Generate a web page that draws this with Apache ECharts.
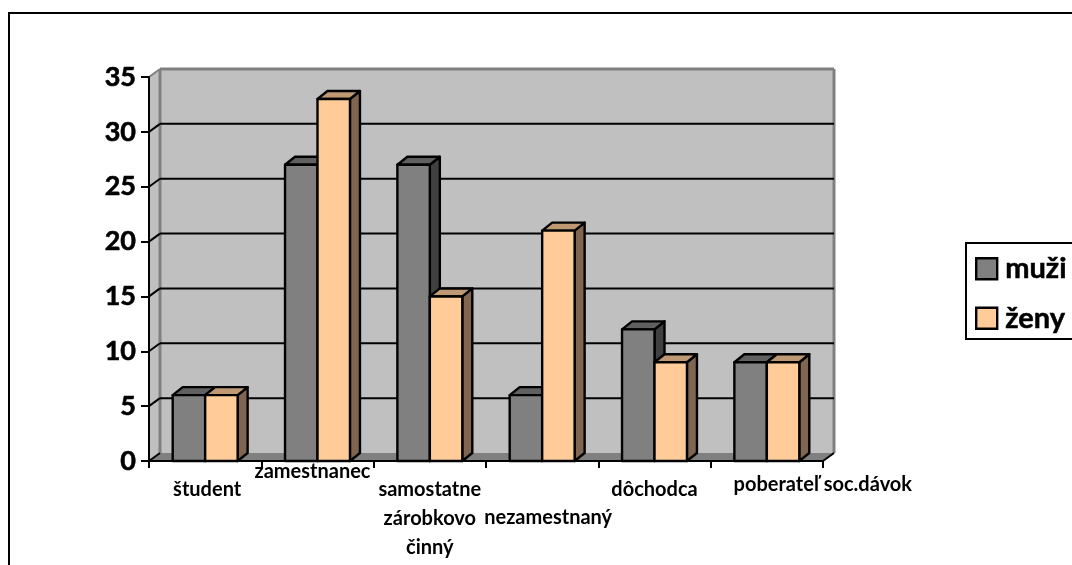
<!DOCTYPE html>
<html><head><meta charset="utf-8">
<script src="https://cdn.jsdelivr.net/npm/echarts@6/dist/echarts.min.js"></script>
<style>html,body{margin:0;padding:0;background:#fff;overflow:hidden}#c{width:1072px;height:565px}</style>
</head><body><div id="c"></div>
<script>
const categories = ['študent','zamestnanec','samostatne\nzárobkovo\nčinný','nezamestnaný','dôchodca','poberateľ soc.dávok'];
const muzi = [6,27,27,6,12,9];
const zeny = [6,33,15,21,9,9];
const yTicks = [0,5,10,15,20,25,30,35];

const DX = 11, DY = 8, BDX = 10, BDY = 8, BAR = 0.289;
const FONT = 'Lato, "Open Sans", "Noto Sans", sans-serif';
const catStyle = [
  {padding:[18,0,0,4]},
  {padding:[0,10,0,0]},
  {padding:[18,0,0,0]},
  {padding:[46,0,0,12]},
  {padding:[18,0,0,0]},
  {padding:[13,0,0,112]}
];

function poly(points, fill, stroke, w){
  return {type:'polygon', shape:{points}, style:{fill, stroke:stroke||null, lineWidth:w||0, lineJoin:'round'}};
}
function line(x1,y1,x2,y2,stroke,w){
  return {type:'line', shape:{x1,y1,x2,y2}, style:{stroke, lineWidth:w}};
}
function wallsItem(params, api){
  const g = params.coordSys, L=g.x, R=g.x+g.width, T=g.y, B=g.y+g.height;
  const ch = [
    poly([[L,T],[L+DX,T-DY],[L+DX,B-DY],[L,B]],'#C0C0C0'),
    poly([[L+DX,T-DY],[R+DX,T-DY],[R+DX,B-DY],[L+DX,B-DY]],'#C0C0C0'),
    poly([[L,B],[R,B],[R+DX,B-DY],[L+DX,B-DY]],'#808080'),
    line(L+DX,T-DY,R+DX,T-DY,'#808080',3),
    line(L+DX,T-DY,L+DX,B-DY,'#808080',3),
    line(R+DX,T-DY,R+DX,B-DY,'#808080',3),
    line(L,T,L+DX,T-DY,'#808080',2),
    line(R,B,R+DX,B-DY,'#000',2)
  ];
  yTicks.forEach(v=>{
    const y = api.coord([0,v])[1];
    if(v>0 && v<35) ch.push(line(L+DX,y-DY,R+DX,y-DY,'#000',2));
    if(v<35) ch.push(line(L,y,L+DX,y-DY,'#000',2));
  });
  return {type:'group', children:ch};
}
function barRenderer(side, front, top, sideCol){
  return function(params, api){
    const c = api.coord([api.value(0), api.value(1)]);
    const base = api.coord([api.value(0), 0]);
    const w = api.size([1,0])[0]*BAR;
    const x0 = side<0 ? c[0]-w : c[0], x1 = x0+w, yT=c[1], yB=base[1];
    const s='#000', lw=2.4;
    return {type:'group', children:[
      poly([[x1,yT],[x1+BDX,yT-BDY],[x1+BDX,yB-BDY],[x1,yB]],sideCol,s,lw),
      poly([[x0,yT],[x0+BDX,yT-BDY],[x1+BDX,yT-BDY],[x1,yT]],top,s,lw),
      poly([[x0,yT],[x1,yT],[x1,yB],[x0,yB]],front,s,lw)
    ]};
  };
}
const chart = echarts.init(document.getElementById('c'),null,{renderer:'canvas'});
chart.setOption({
  animation:false,
  backgroundColor:'#fff',
  graphic:[{type:'rect',z:0,shape:{x:9,y:13,width:1300,height:800},style:{fill:'none',stroke:'#000',lineWidth:2}}],
  grid:{left:149,top:77,width:674,height:384,containLabel:false,outerBoundsMode:'none'},
  legend:{
    data:['muži','ženy'], orient:'vertical', left:966, top:243,
    padding:[11,30,6,9], itemGap:20, itemWidth:21, itemHeight:21, icon:'rect',
    borderColor:'#000', borderWidth:2, backgroundColor:'#fff',
    itemStyle:{borderColor:'#000',borderWidth:2.4},
    textStyle:{fontFamily:FONT,fontWeight:'bold',fontSize:29,lineHeight:27,color:'#000',padding:[0,0,0,3],textBorderColor:'#000',textBorderWidth:0.5}
  },
  xAxis:{type:'category', z:4,
    data:categories.map((c,i)=>({value:c,textStyle:catStyle[i]})),
    axisLine:{lineStyle:{color:'#000',width:2}},
    axisTick:{show:true,alignWithLabel:false,length:7,lineStyle:{color:'#000',width:2}},
    axisLabel:{interval:0,hideOverlap:false,margin:-4,color:'#000',fontFamily:FONT,fontWeight:'bold',fontSize:20,lineHeight:29}
  },
  yAxis:{type:'value',min:0,max:35,interval:5,z:4,
    axisLine:{show:true,lineStyle:{color:'#000',width:2}},
    axisTick:{show:true,length:8,lineStyle:{color:'#000',width:2}},
    splitLine:{show:false},
    axisLabel:{margin:13,color:'#000',fontFamily:FONT,fontWeight:'bold',fontSize:27,padding:[6,0,0,0],textBorderColor:'#000',textBorderWidth:0.6}
  },
  series:[
    {type:'custom',name:'walls',z:1,clip:false,silent:true,data:[[0,0]],encode:{x:0,y:1},renderItem:wallsItem},
    {type:'custom',name:'muži',z:5,clip:false,itemStyle:{color:'#808080'},
      data:muzi.map((v,i)=>[i,v]),encode:{x:0,y:1},
      renderItem:barRenderer(-1,'#808080','#606060','#404040')},
    {type:'custom',name:'ženy',z:6,clip:false,itemStyle:{color:'#FFCC99'},
      data:zeny.map((v,i)=>[i,v]),encode:{x:0,y:1},
      renderItem:barRenderer(1,'#FFCC99','#BF9973','#806650')}
  ]
});
</script></body></html>
